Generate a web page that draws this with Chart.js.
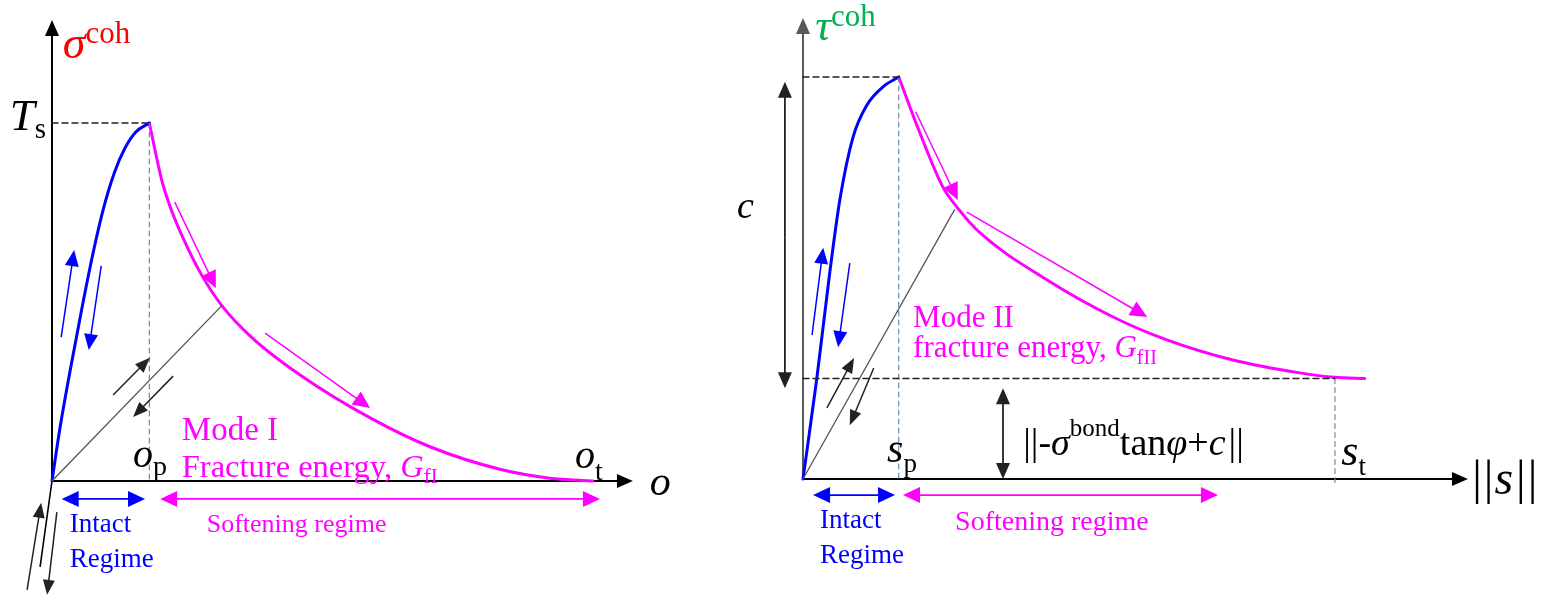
<!DOCTYPE html>
<html>
<head>
<meta charset="utf-8">
<script src="https://cdn.jsdelivr.net/npm/chart.js@4.4.0/dist/chart.umd.min.js"></script>
<style>
  html, body { margin: 0; padding: 0; background: #fff; }
  #wrap { position: relative; width: 1544px; height: 597px; overflow: hidden; }
  canvas { position: absolute; top: 0; }
  #modeI { left: 0; }
  #modeII { left: 720px; }
</style>
</head>
<body>
<div id="wrap">
  <canvas id="modeI" width="720" height="597"></canvas>
  <canvas id="modeII" width="824" height="597"></canvas>
</div>
<script>
// Mode I (normal) traction-separation law, units: % of o_t and % of Ts
const modeIRiseX = [0, 1.5, 3.5, 5.5, 7.5, 9.5, 11.5, 13.5, 15.5, 18];
const modeIRiseY = [0, 15, 32, 48, 63, 76, 86, 93, 97.5, 100];
const modeISoftX = [18, 20.3, 22, 24.5, 27.5, 31.4, 37, 46, 59, 70, 83, 92, 100];
const modeISoftY = [100, 84, 76, 67, 58, 49, 40, 29.5, 17.5, 9.5, 3.2, 0.8, 0];
const modeIPeak = [18, 100];
const modeISecant = [31.4, 49];

// Mode II (shear) law, units: % of s_t and % of c
const modeIIRiseX = [0, 2.6, 5, 7, 9.4, 12, 15, 18];
const modeIIRiseY = [0, 25, 51, 70, 85, 93, 97.5, 100];
const modeIISoftX = [18, 22, 26.3, 28.9, 33.3, 45.9, 58.3, 68.4, 80.8, 93.4, 100, 105.6];
const modeIISoftY = [100, 86, 72.6, 67.7, 61.2, 49.5, 40.3, 34.6, 29.6, 26.4, 25.3, 25];
const modeIIPeak = [18, 100];
const modeIIResidual = [100, 25];
const modeIISecant = [28.5, 67];

const SERIF = '"Liberation Serif", "Times New Roman", serif';
const MAGENTA = '#ff00ff';
const BLUE = '#0000ff';
const GUIDE = '#6a89a6';

function pts(xs, ys) {
  return xs.map((x, i) => ({ x: x, y: ys[i] }));
}
function seg(a, b) {
  return [{ x: a[0], y: a[1] }, { x: b[0], y: b[1] }];
}
function lineSet(data, color, width, dash, smooth) {
  return {
    data: data,
    borderColor: color,
    borderWidth: width,
    borderDash: dash || [],
    showLine: true,
    pointRadius: 0,
    pointHoverRadius: 0,
    fill: false,
    tension: 0,
    cubicInterpolationMode: smooth ? 'monotone' : 'default',
    borderCapStyle: 'round'
  };
}

// drawing helpers working in data units
function tools(chart) {
  const ctx = chart.ctx, sx = chart.scales.x, sy = chart.scales.y;
  const X = v => sx.getPixelForValue(v), Y = v => sy.getPixelForValue(v);
  function head(x1, y1, x2, y2, len, half) {
    const a = Math.atan2(y2 - y1, x2 - x1), c = Math.cos(a), s = Math.sin(a);
    ctx.beginPath();
    ctx.moveTo(x2, y2);
    ctx.lineTo(x2 - len * c - half * s, y2 - len * s + half * c);
    ctx.lineTo(x2 - len * c + half * s, y2 - len * s - half * c);
    ctx.closePath();
    ctx.fill();
  }
  return {
    line(a, b, color, width) {
      ctx.save();
      ctx.strokeStyle = color;
      ctx.lineWidth = width;
      ctx.beginPath();
      ctx.moveTo(X(a[0]), Y(a[1]));
      ctx.lineTo(X(b[0]), Y(b[1]));
      ctx.stroke();
      ctx.restore();
    },
    arrow(a, b, color, width, len, half, both) {
      const x1 = X(a[0]), y1 = Y(a[1]), x2 = X(b[0]), y2 = Y(b[1]);
      const d = Math.hypot(x2 - x1, y2 - y1), ux = (x2 - x1) / d, uy = (y2 - y1) / d;
      ctx.save();
      ctx.strokeStyle = color;
      ctx.fillStyle = color;
      ctx.lineWidth = width;
      ctx.beginPath();
      ctx.moveTo(both ? x1 + ux * len * 0.7 : x1, both ? y1 + uy * len * 0.7 : y1);
      ctx.lineTo(x2 - ux * len * 0.7, y2 - uy * len * 0.7);
      ctx.stroke();
      head(x1, y1, x2, y2, len, half);
      if (both) head(x2, y2, x1, y1, len, half);
      ctx.restore();
    },
    text(a, parts, color) {
      let x = X(a[0]);
      const y = Y(a[1]);
      ctx.save();
      ctx.fillStyle = color || '#000';
      ctx.textBaseline = 'alphabetic';
      ctx.textAlign = 'left';
      parts.forEach(p => {
        ctx.font = (p[2] ? 'italic ' : '') + p[1] + 'px ' + SERIF;
        ctx.fillText(p[0], x, y + (p[3] || 0));
        x += ctx.measureText(p[0]).width + (p[4] || 0);
      });
      ctx.restore();
    }
  };
}

function diagram(id, range, datasets, under, over) {
  return new Chart(document.getElementById(id), {
    type: 'scatter',
    data: { datasets: datasets },
    options: {
      responsive: false,
      animation: false,
      devicePixelRatio: 1,
      layout: { padding: 0 },
      events: [],
      plugins: { legend: { display: false }, tooltip: { enabled: false } },
      scales: {
        x: { type: 'linear', min: range[0], max: range[1], display: false },
        y: { type: 'linear', min: range[2], max: range[3], display: false }
      }
    },
    plugins: [{
      id: id + 'Notes',
      beforeDatasetsDraw(chart) { under(tools(chart)); },
      afterDatasetsDraw(chart) { over(tools(chart)); }
    }]
  });
}

// ---- Mode I ----
diagram('modeI', [-9.61, 123.5, -32.4, 134.36], [
  lineSet(seg([0, modeIPeak[1]], modeIPeak), '#222', 1.5, [6, 4]),
  lineSet(seg(modeIPeak, [modeIPeak[0], 0]), GUIDE, 1.2, [5, 4]),
  lineSet(seg([0, 0], modeISecant), '#555', 1.3),
  lineSet(pts(modeIRiseX, modeIRiseY), BLUE, 3, null, true),
  lineSet(pts(modeISoftX, modeISoftY), MAGENTA, 3, null, true)
], t => {
  t.line([0, 0], [-2.2, -24], '#000', 1.6);
  t.arrow([0, 0], [0, 128.8], '#000', 2, 16, 7);
  t.arrow([0, 0], [107.4, 0], '#000', 2, 16, 7);
}, t => {
  // loading / unloading paths
  t.arrow([1.7, 40.2], [4.1, 64.5], BLUE, 1.5, 16, 7);
  t.arrow([9.1, 60.1], [6.8, 36.6], BLUE, 1.5, 16, 7);
  t.arrow([22.7, 77.9], [30.3, 53.9], MAGENTA, 1.5, 17, 8);
  t.arrow([39.4, 41.3], [58.8, 20.4], MAGENTA, 1.5, 17, 8);
  t.arrow([11.3, 24], [18.1, 34.4], '#222', 1.5, 15, 6);
  t.arrow([22.4, 29.3], [15, 17.9], '#222', 1.5, 15, 6);
  t.arrow([-4.6, -30.4], [-2.0, -6.1], '#222', 1.5, 15, 6);
  t.arrow([0.9, -8.7], [-0.9, -31.8], '#222', 1.5, 15, 6);
  // regimes
  t.arrow([1.8, -5.0], [17.2, -5.0], BLUE, 1.6, 17, 8, true);
  t.arrow([20.0, -5.0], [101.3, -5.0], MAGENTA, 1.8, 17, 8, true);

  t.text([2.0, 118.2], [['σ', 46, true], ['coh', 31, false, -15]], '#ff0000');
  t.text([-7.8, 98], [['T', 45, true], ['s', 29, false, 8]]);
  t.text([15, 3.9], [['o', 40, true], ['p', 28, false, 8]]);
  t.text([96.7, 3.6], [['o', 40, true], ['t', 28, false, 12]]);
  t.text([110.5, -3.9], [['o', 42, true]]);
  t.text([24, 11.5], [['Mode I', 33]], MAGENTA);
  t.text([24, 1.1], [['Fracture energy, ', 32.5], ['G', 32.5, true], ['fI', 21, false, 6]], MAGENTA);
  t.text([3.3, -14.2], [['Intact', 27]], BLUE);
  t.text([3.3, -24], [['Regime', 27]], BLUE);
  t.text([28.6, -14.2], [['Softening regime', 26]], MAGENTA);
});

// ---- Mode II ----
diagram('modeII', [-15.6, 139.3, -29.35, 119.15], [
  lineSet(seg([0, modeIIPeak[1]], modeIIPeak), '#222', 1.5, [6, 4]),
  lineSet(seg([0, modeIIResidual[1]], modeIIResidual), '#222', 1.5, [6, 4]),
  lineSet(seg(modeIIPeak, [modeIIPeak[0], 0]), GUIDE, 1.2, [5, 4]),
  lineSet(seg(modeIIResidual, [modeIIResidual[0], -1]), GUIDE, 1.2, [5, 4]),
  lineSet(seg([0, 0], modeIISecant), '#555', 1.3),
  lineSet(pts(modeIIRiseX, modeIIRiseY), BLUE, 3, null, true),
  lineSet(pts(modeIISoftX, modeIISoftY), MAGENTA, 3, null, true)
], t => {
  t.arrow([0, 0], [0, 114.7], '#595959', 2, 16, 7);
  t.arrow([0, 0], [125.0, 0], '#000', 2, 16, 7);
}, t => {
  t.arrow([-3.4, 60], [-3.4, 98.8], '#222', 1.8, 16, 7);
  t.arrow([-3.4, 60], [-3.4, 22.6], '#222', 1.8, 16, 7);
  t.arrow([37.6, 0], [37.6, 22.6], '#222', 1.8, 16, 7, true);
  t.arrow([1.7, 35.8], [3.8, 57.5], BLUE, 1.5, 16, 7);
  t.arrow([8.8, 53.7], [6.6, 32.8], BLUE, 1.5, 16, 7);
  t.arrow([21.2, 91.3], [29.1, 69.4], MAGENTA, 1.5, 17, 8);
  t.arrow([30.8, 66.4], [64.7, 40.3], MAGENTA, 1.5, 17, 8);
  t.arrow([4.5, 17.7], [9.6, 30.1], '#222', 1.5, 15, 6);
  t.arrow([13.3, 27.6], [8.8, 13.4], '#222', 1.5, 15, 6);
  t.arrow([1.9, -4.0], [17.3, -4.0], BLUE, 1.6, 17, 8, true);
  t.arrow([18.8, -4.0], [78.0, -4.0], MAGENTA, 1.8, 17, 8, true);

  t.text([2.3, 109.2], [['τ', 44, true], ['coh', 31, false, -14]], '#00b050');
  t.text([-12.4, 64.9], [['c', 38, true]]);
  t.text([20.7, 37.8], [['Mode II', 31]], MAGENTA);
  t.text([20.7, 30.3], [['fracture energy, ', 31], ['G', 31, true], ['fII', 20, false, 7]], MAGENTA);
  t.text([15.8, 4.2], [['s', 42, true], ['p', 27, false, 10]]);
  t.text([41.4, 6.0], [['||-', 38], ['σ', 38, true], ['bond', 25, false, -19], ['tan', 38],
    ['φ', 38, true], ['+', 38], ['c', 38, true, 0, 3], ['||', 38]]);
  t.text([101.2, 3.5], [['s', 44, true], ['t', 27, false, 10]]);
  t.text([125.8, -3.7], [['|', 48, false, 0, 2], ['|', 48, false, 0, 1], ['s', 48, true, 0, 3], ['|', 48, false, 0, 2], ['|', 48]]);
  t.text([3.2, -12.2], [['Intact', 27]], BLUE);
  t.text([3.2, -20.9], [['Regime', 27]], BLUE);
  t.text([28.6, -12.7], [['Softening regime', 28]], MAGENTA);
});
</script>
</body>
</html>
